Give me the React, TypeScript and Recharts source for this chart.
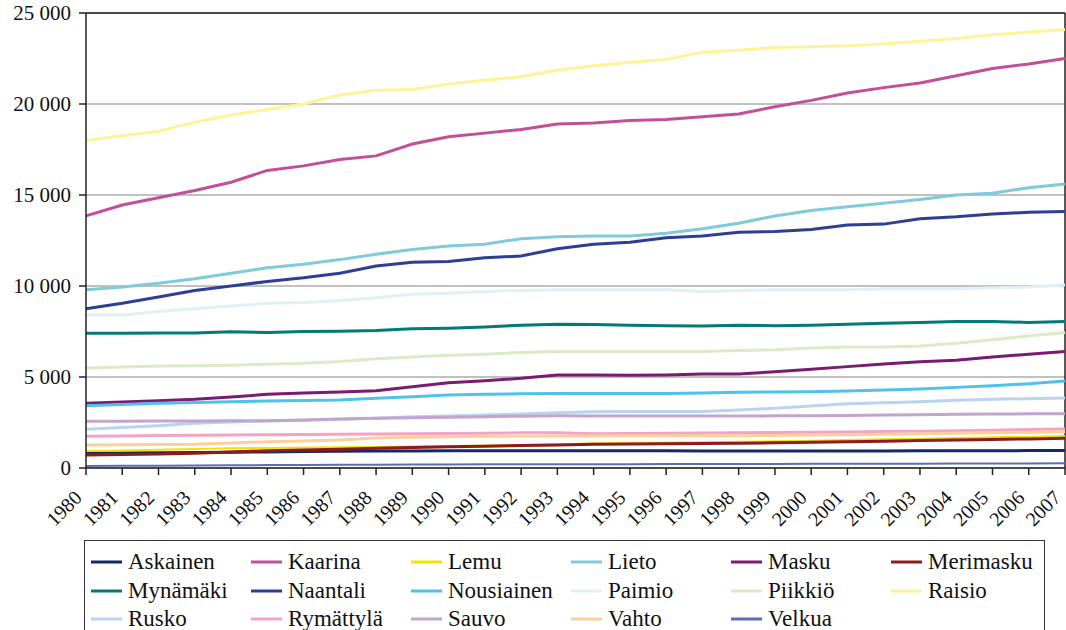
import { CartesianGrid, Line, LineChart, ReferenceLine, XAxis, YAxis } from 'recharts'

const years = [
  '1980', '1981', '1982', '1983', '1984', '1985', '1986', '1987', '1988', '1989',
  '1990', '1991', '1992', '1993', '1994', '1995', '1996', '1997', '1998', '1999',
  '2000', '2001', '2002', '2003', '2004', '2005', '2006', '2007',
]

const askainen = [825, 830, 840, 850, 860, 880, 900, 915, 935, 940, 945, 948, 950, 950, 950, 948, 945, 940, 935, 935, 935, 935, 940, 945, 950, 952, 955, 960]
const kaarina = [13850, 14450, 14850, 15250, 15700, 16350, 16600, 16950, 17150, 17800, 18200, 18400, 18600, 18900, 18950, 19100, 19150, 19300, 19450, 19850, 20200, 20600, 20900, 21150, 21550, 21950, 22200, 22500]
const lemu = [935, 960, 1000, 1040, 1080, 1100, 1120, 1135, 1160, 1185, 1210, 1240, 1270, 1300, 1350, 1380, 1400, 1420, 1440, 1470, 1500, 1540, 1580, 1610, 1650, 1690, 1720, 1760]
const lieto = [9800, 9950, 10150, 10400, 10700, 11000, 11200, 11450, 11750, 12000, 12200, 12300, 12600, 12700, 12750, 12750, 12900, 13150, 13450, 13850, 14150, 14350, 14550, 14750, 15000, 15100, 15400, 15600]
const masku = [3555, 3620, 3700, 3775, 3900, 4050, 4120, 4176, 4250, 4470, 4690, 4800, 4925, 5110, 5110, 5090, 5110, 5165, 5165, 5290, 5420, 5570, 5715, 5840, 5920, 6100, 6250, 6400]
const merimasku = [715, 740, 770, 805, 880, 950, 990, 1030, 1080, 1130, 1170, 1200, 1230, 1265, 1300, 1315, 1330, 1340, 1355, 1385, 1415, 1445, 1475, 1510, 1540, 1570, 1600, 1630]
const mynamaki = [7400, 7400, 7420, 7420, 7480, 7450, 7500, 7520, 7550, 7650, 7680, 7750, 7850, 7900, 7880, 7850, 7820, 7800, 7850, 7820, 7850, 7900, 7950, 8000, 8050, 8050, 8000, 8050]
const naantali = [8750, 9050, 9400, 9750, 10000, 10250, 10450, 10700, 11100, 11300, 11350, 11550, 11650, 12050, 12300, 12400, 12650, 12750, 12950, 13000, 13100, 13350, 13400, 13700, 13800, 13950, 14050, 14100]
const nousiainen = [3425, 3490, 3555, 3600, 3640, 3680, 3710, 3740, 3830, 3920, 4010, 4050, 4080, 4100, 4100, 4100, 4100, 4120, 4160, 4175, 4195, 4230, 4285, 4340, 4430, 4525, 4630, 4780]
const paimio = [8400, 8400, 8600, 8750, 8900, 9050, 9100, 9200, 9350, 9550, 9600, 9700, 9750, 9800, 9800, 9800, 9800, 9700, 9750, 9800, 9800, 9800, 9850, 9850, 9850, 9900, 9950, 10050]
const piikkio = [5500, 5550, 5600, 5620, 5650, 5700, 5750, 5850, 6000, 6100, 6200, 6250, 6350, 6400, 6400, 6400, 6400, 6400, 6450, 6500, 6600, 6650, 6650, 6700, 6850, 7050, 7250, 7450]
const raisio = [18000, 18250, 18500, 19000, 19400, 19700, 20000, 20500, 20750, 20800, 21100, 21300, 21500, 21850, 22100, 22300, 22450, 22850, 22950, 23100, 23150, 23200, 23300, 23450, 23600, 23800, 23950, 24100]
const rusko = [2125, 2220, 2325, 2455, 2530, 2580, 2620, 2675, 2730, 2820, 2860, 2910, 2965, 3040, 3095, 3110, 3100, 3100, 3187, 3280, 3405, 3530, 3590, 3645, 3720, 3775, 3810, 3845]
const rymattyla = [1740, 1760, 1780, 1800, 1815, 1830, 1845, 1860, 1870, 1885, 1900, 1915, 1930, 1940, 1885, 1900, 1910, 1925, 1940, 1955, 1965, 1980, 2000, 2025, 2050, 2080, 2110, 2145]
const sauvo = [2565, 2570, 2580, 2585, 2590, 2600, 2640, 2690, 2730, 2765, 2790, 2820, 2850, 2875, 2860, 2855, 2855, 2860, 2860, 2865, 2870, 2885, 2910, 2930, 2950, 2965, 2975, 2985]
const vahto = [1265, 1275, 1290, 1310, 1380, 1445, 1490, 1540, 1650, 1690, 1720, 1740, 1750, 1760, 1765, 1770, 1775, 1775, 1775, 1790, 1810, 1830, 1850, 1880, 1905, 1930, 1955, 1985]
const velkua = [110, 120, 130, 140, 150, 160, 170, 180, 185, 190, 195, 200, 205, 210, 210, 212, 215, 218, 220, 225, 228, 232, 236, 240, 243, 246, 250, 255]

const yTicks = [0, 5000, 10000, 15000, 20000, 25000]

const series = [
  { name: 'Askainen', values: askainen, color: '#14286e', width: 3 },
  { name: 'Kaarina', values: kaarina, color: '#c24f98', width: 3 },
  { name: 'Lemu', values: lemu, color: '#f2e400', width: 2 },
  { name: 'Lieto', values: lieto, color: '#7fcbda', width: 3 },
  { name: 'Masku', values: masku, color: '#7a1b70', width: 3 },
  { name: 'Merimasku', values: merimasku, color: '#8e1a1d', width: 3 },
  { name: 'Mynämäki', values: mynamaki, color: '#007b76', width: 3 },
  { name: 'Naantali', values: naantali, color: '#2e3e94', width: 3 },
  { name: 'Nousiainen', values: nousiainen, color: '#4fc2ec', width: 3 },
  { name: 'Paimio', values: paimio, color: '#dff0f6', width: 3 },
  { name: 'Piikkiö', values: piikkio, color: '#dceac8', width: 3 },
  { name: 'Raisio', values: raisio, color: '#fff39a', width: 3 },
  { name: 'Rusko', values: rusko, color: '#b8d4ee', width: 3 },
  { name: 'Rymättylä', values: rymattyla, color: '#f4a3c4', width: 3 },
  { name: 'Sauvo', values: sauvo, color: '#c2a4cf', width: 3 },
  { name: 'Vahto', values: vahto, color: '#fdd09b', width: 3 },
  { name: 'Velkua', values: velkua, color: '#5a6db5', width: 2 },
]

const data = years.map((year, i) => {
  const row: Record<string, string | number> = { year }
  series.forEach((s) => {
    row[s.name] = s.values[i]
  })
  return row
})

const font = '"Liberation Serif", "DejaVu Serif", Tinos, serif'

const formatThousands = (v: number) => String(v).replace(/\B(?=(\d{3})+(?!\d))/g, ' ')

// vuosiluvut vinossa, loppupää tikin kohdalla
function YearTick({ x, y, payload }: any) {
  const tx = x - 3
  const ty = y + 22
  return (
    <text
      x={tx}
      y={ty}
      transform={`rotate(-45 ${tx} ${ty})`}
      textAnchor="end"
      style={{ fontFamily: font }}
      fontSize={20}
      fill="#111"
    >
      {payload.value}
    </text>
  )
}

export default function App() {
  return (
    <div style={{ position: 'absolute', left: 0, top: 0, width: 1066, height: 630, background: '#fff', overflow: 'hidden', fontFamily: font }}>
      <LineChart width={1066} height={540} data={data} margin={{ top: 13, right: 1, left: 0, bottom: 0 }}>
        <CartesianGrid vertical={false} stroke="#acacac" strokeWidth={1.5} />
        <XAxis
          dataKey="year"
          interval={0}
          height={72}
          tickSize={7}
          tickMargin={2}
          stroke="#222"
          strokeWidth={1.5}
          tick={<YearTick />}
        />
        <YAxis
          domain={[0, 25000]}
          ticks={yTicks}
          width={86}
          tickSize={7}
          tickMargin={8}
          stroke="#222"
          strokeWidth={1.5}
          tickFormatter={formatThousands}
          tick={{ style: { fontFamily: font }, fontSize: 21, fill: '#111' }}
        />
        <ReferenceLine y={25000} stroke="#222" strokeWidth={1.5} />
        <ReferenceLine x="2007" stroke="#222" strokeWidth={1.5} />
        {series.map((s) => (
          <Line
            key={s.name}
            dataKey={s.name}
            type="linear"
            stroke={s.color}
            strokeWidth={s.width}
            dot={false}
            isAnimationActive={false}
          />
        ))}
      </LineChart>
      <div
        style={{
          position: 'absolute',
          left: 84,
          top: 540,
          width: 961,
          height: 110,
          border: '1px solid #333',
          boxSizing: 'border-box',
          display: 'grid',
          gridTemplateColumns: 'repeat(6, 160px)',
          gridAutoRows: '28.5px',
          paddingTop: 7,
          paddingLeft: 6,
          fontFamily: font,
          fontSize: 23,
          lineHeight: '28px',
          color: '#111',
        }}
      >
        {series.map((s) => (
          <div key={s.name} style={{ display: 'flex', alignItems: 'center', whiteSpace: 'nowrap' }}>
            <svg width={31} height={6} style={{ marginRight: 6 }}>
              <line x1={0} y1={3} x2={31} y2={3} stroke={s.color} strokeWidth={3} />
            </svg>
            <span>{s.name}</span>
          </div>
        ))}
      </div>
    </div>
  )
}
